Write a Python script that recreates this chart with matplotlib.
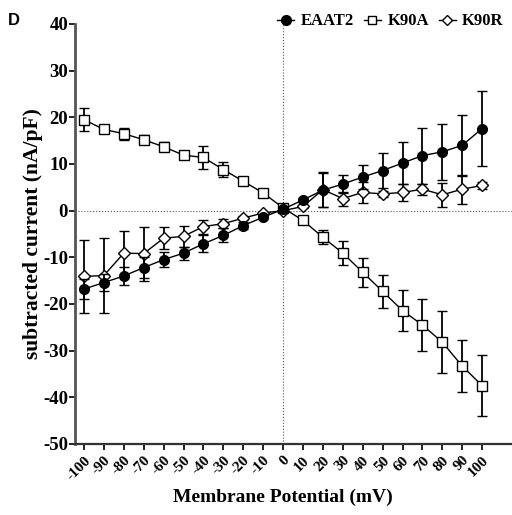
import matplotlib
matplotlib.use("Agg")
import matplotlib.pyplot as plt
from matplotlib.lines import Line2D

plt.rcParams["font.family"] = ["Liberation Serif", "DejaVu Serif"]
plt.rcParams["font.weight"] = "bold"
plt.rcParams["axes.unicode_minus"] = False

voltage = [-100, -90, -80, -70, -60, -50, -40, -30, -20, -10, 0,
           10, 20, 30, 40, 50, 60, 70, 80, 90, 100]

# EAAT2 (filled circles)
eaat2 = [-16.8, -15.4, -14.0, -12.2, -10.5, -9.1, -7.1, -5.3, -3.2, -1.4, 0.3,
         2.3, 4.4, 5.7, 7.2, 8.6, 10.2, 11.8, 12.6, 14.0, 17.6]
eaat2_err = [2.1, 1.8, 2.0, 2.2, 1.6, 1.4, 1.8, 1.5, 0.8, 0.4, 0.3,
             0.5, 3.6, 1.9, 2.6, 3.7, 4.5, 6.0, 6.0, 6.6, 8.1]

# K90A (open squares)
k90a = [19.5, 17.4, 16.5, 15.2, 13.7, 11.9, 11.4, 8.8, 6.3, 3.8, 0.6,
        -2.1, -5.7, -9.1, -13.2, -17.3, -21.4, -24.5, -28.2, -33.3, -37.5]
k90a_err = [2.4, 0.5, 1.3, 1.0, 1.0, 0.8, 2.5, 1.6, 0.8, 0.3, 0.3,
            0.5, 1.5, 2.5, 3.1, 3.6, 4.4, 5.6, 6.6, 5.5, 6.6]

# K90R (open diamonds)
k90r = [-14.1, -13.9, -9.1, -9.2, -5.9, -5.5, -3.4, -2.8, -1.6, -0.5, 0.0,
        0.9, 4.5, 2.6, 3.9, 3.6, 3.9, 4.6, 3.4, 4.6, 5.4]
k90r_err = [7.8, 8.0, 4.7, 5.8, 2.4, 2.3, 1.5, 1.0, 0.5, 0.3, 0.2,
            0.4, 3.7, 1.5, 2.3, 0.6, 1.9, 1.2, 2.6, 3.1, 0.8]

yticks = [40, 30, 20, 10, 0, -10, -20, -30, -40, -50]

fig = plt.figure(figsize=(5.12, 5.15), dpi=100)
ax = fig.add_axes([0.1465, 0.1379, 0.8535, 0.8155])

# dotted zero lines
ax.axhline(0, color="#555555", lw=0.8, ls=":", zorder=1)
ax.axvline(0, color="#555555", lw=0.8, ls=":", zorder=1)

common = dict(color="black", lw=1.0, elinewidth=1.3, capsize=3.5, capthick=1.5,
              markersize=7, markeredgewidth=1.0)
ax.errorbar(voltage, k90a, yerr=k90a_err, marker="s", mfc="white", mec="black",
            zorder=3, **common)
ax.errorbar(voltage, k90r, yerr=k90r_err, marker="D", mfc="white", mec="black",
            zorder=4, **{**common, "markersize": 6.3})
ax.errorbar(voltage, eaat2, yerr=eaat2_err, marker="o", mfc="black", mec="black",
            zorder=5, **common)

ax.set_xlim(-104.5, 115)
ax.set_ylim(-50, 40)
ax.set_yticks(yticks)
ax.set_xticks(voltage)
ax.set_xticklabels([str(v) for v in voltage], rotation=45, ha="right",
                   rotation_mode="anchor", fontsize=11, fontweight="bold")
ax.tick_params(axis="y", labelsize=13.5, length=4, width=1.2, pad=1)
ax.tick_params(axis="x", length=4, width=1.2, pad=3)
for lab in ax.get_yticklabels():
    lab.set_fontweight("bold")

for side in ["top", "right"]:
    ax.spines[side].set_visible(False)
ax.spines["left"].set_color("#555555")
ax.spines["left"].set_linewidth(2.0)
ax.spines["bottom"].set_color("#333333")
ax.spines["bottom"].set_linewidth(1.6)

ax.set_xlabel("Membrane Potential (mV)", fontsize=14, fontweight="bold")
ax.xaxis.set_label_coords(0.476, -0.107)
ax.set_ylabel("subtracted current (nA/pF)", fontsize=15.5, fontweight="bold", labelpad=0)

handles = [
    Line2D([], [], color="black", lw=1, marker="o", mfc="black", ms=7),
    Line2D([], [], color="black", lw=1, marker="s", mfc="white", ms=6),
    Line2D([], [], color="black", lw=1, marker="D", mfc="white", ms=5.5),
]
ax.legend(handles, ["EAAT2", "K90A", "K90R"], loc="upper right", ncol=3,
          frameon=False, handlelength=1.0, handletextpad=0.4, columnspacing=0.6,
          prop={"family": "Liberation Serif", "weight": "bold", "size": 12},
          bbox_to_anchor=(1.0, 1.045), borderaxespad=0.1)

fig.text(0.015, 0.975, "D", fontsize=12, fontweight="bold", family="Liberation Sans",
         va="top", ha="left")

fig.savefig("out.png", dpi=100)
